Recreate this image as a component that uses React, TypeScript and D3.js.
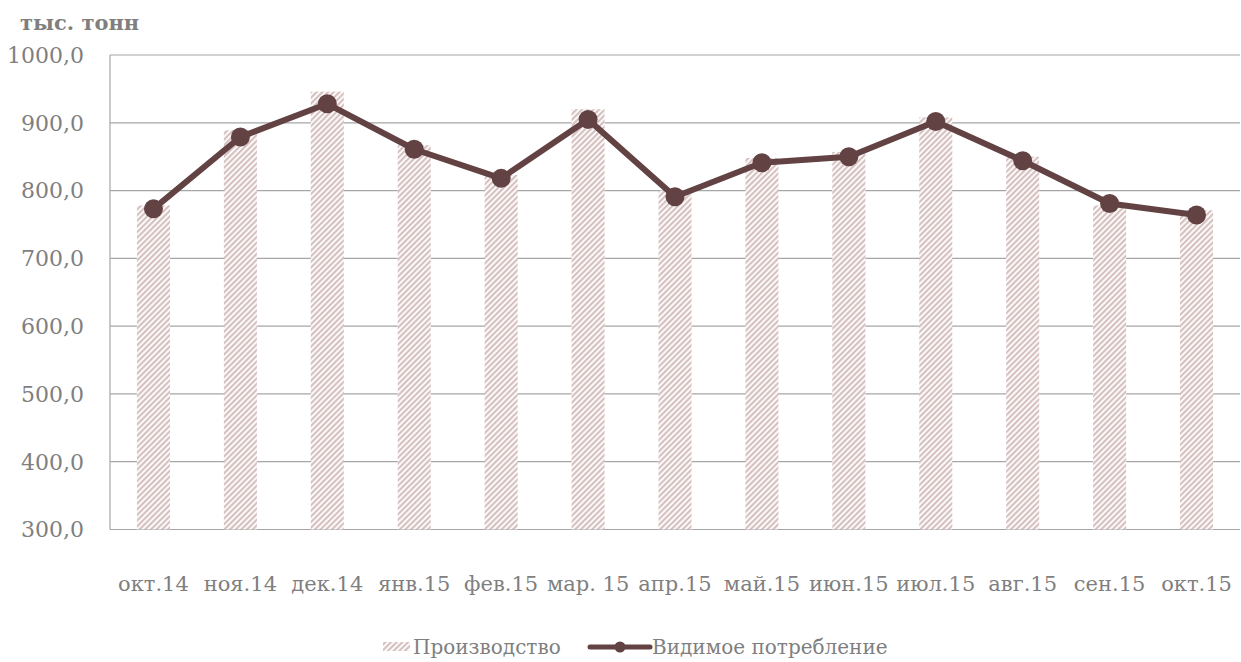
import * as d3 from 'd3';
import { useEffect, useRef } from 'react';

const months = ['окт.14', 'ноя.14', 'дек.14', 'янв.15', 'фев.15', 'мар. 15', 'апр.15', 'май.15', 'июн.15', 'июл.15', 'авг.15', 'сен.15', 'окт.15'];
const production = [778, 889, 946, 867, 823, 920, 800, 848, 857, 908, 850, 778, 771];
const consumption = [773, 879, 928, 861, 818, 905, 791, 841, 850, 902, 844, 781, 764];
const yTicks = [300, 400, 500, 600, 700, 800, 900, 1000];

const W = 1241;
const H = 662;
const FONT = '"DejaVu Serif", serif';
const GRAY = '#7f7f7f';
const LINE = '#634243';
const HATCH = '#d6c0c0';

const App = () => {
    const ref = useRef<SVGSVGElement>(null);

    useEffect(() => {
        const svg = d3.select(ref.current);
        svg.selectAll('*').remove();

        const margin = { top: 55, right: 1, bottom: 132.5, left: 110 };

        // hatch for the bars
        const defs = svg.append('defs');
        const pat = defs.append('pattern')
            .attr('id', 'hatch')
            .attr('patternUnits', 'userSpaceOnUse')
            .attr('width', 4)
            .attr('height', 4)
            .attr('patternTransform', 'rotate(45)');
        pat.append('rect').attr('width', 4).attr('height', 4).attr('fill', '#fff');
        pat.append('rect').attr('width', 2.2).attr('height', 4).attr('fill', HATCH);

        const x = d3.scaleBand()
            .domain(months)
            .range([margin.left, W - margin.right]);

        const y = d3.scaleLinear()
            .domain([300, 1000])
            .range([H - margin.bottom, margin.top]);

        // gridlines
        svg.append('g')
            .selectAll('line')
            .data(yTicks)
            .enter().append('line')
            .attr('x1', margin.left)
            .attr('x2', W - margin.right)
            .attr('y1', d => y(d))
            .attr('y2', d => y(d))
            .attr('stroke', '#a6a6a6')
            .attr('stroke-width', 1.2);

        // left frame
        svg.append('line')
            .attr('x1', margin.left).attr('x2', margin.left)
            .attr('y1', margin.top).attr('y2', H - margin.bottom)
            .attr('stroke', '#a6a6a6').attr('stroke-width', 1.2);

        // y labels
        svg.append('g')
            .selectAll('text')
            .data(yTicks)
            .enter().append('text')
            .attr('x', 84)
            .attr('y', d => y(d))
            .attr('dy', '0.36em')
            .attr('text-anchor', 'end')
            .style('font-family', FONT)
            .style('font-size', '22px')
            .attr('fill', GRAY)
            .text(d => d3.format('.1f')(d).replace('.', ','));

        // x labels
        svg.append('g')
            .selectAll('text')
            .data(months)
            .enter().append('text')
            .attr('x', d => x(d)! + x.bandwidth() / 2)
            .attr('y', 591)
            .attr('text-anchor', 'middle')
            .style('font-family', FONT)
            .style('font-size', '21px')
            .attr('fill', GRAY)
            .text(d => d);

        // bars
        const bw = x.bandwidth() * 0.38;
        svg.append('g')
            .selectAll('rect')
            .data(production)
            .enter().append('rect')
            .attr('x', (d, i) => x(months[i])! + (x.bandwidth() - bw) / 2)
            .attr('y', d => y(d))
            .attr('width', bw)
            .attr('height', d => y(300) - y(d))
            .attr('fill', 'url(#hatch)');

        // line
        const line = d3.line<number>()
            .x((d, i) => x(months[i])! + x.bandwidth() / 2)
            .y(d => y(d));
        svg.append('path')
            .datum(consumption)
            .attr('d', line)
            .attr('fill', 'none')
            .attr('stroke', LINE)
            .attr('stroke-width', 6)
            .attr('stroke-linejoin', 'round');

        svg.append('g')
            .selectAll('circle')
            .data(consumption)
            .enter().append('circle')
            .attr('cx', (d, i) => x(months[i])! + x.bandwidth() / 2)
            .attr('cy', d => y(d))
            .attr('r', 9.5)
            .attr('fill', LINE);

        // title
        svg.append('text')
            .attr('x', 20)
            .attr('y', 30)
            .style('font-family', FONT)
            .style('font-size', '21px')
            .style('font-weight', 'bold')
            .attr('fill', GRAY)
            .text('тыс. тонн');

        // legend
        const lg = svg.append('g').attr('transform', 'translate(0,647)');
        lg.append('rect')
            .attr('x', 383).attr('y', -5)
            .attr('width', 27).attr('height', 9)
            .attr('fill', 'url(#hatch)');
        lg.append('text')
            .attr('x', 413).attr('y', 0).attr('dy', '0.36em')
            .style('font-family', FONT).style('font-size', '20px')
            .attr('fill', GRAY)
            .text('Производство');
        lg.append('line')
            .attr('x1', 590).attr('x2', 650)
            .attr('y1', 0).attr('y2', 0)
            .attr('stroke', LINE).attr('stroke-width', 5)
            .attr('stroke-linecap', 'round');
        lg.append('circle')
            .attr('cx', 620).attr('cy', 0).attr('r', 5.5)
            .attr('fill', LINE);
        lg.append('text')
            .attr('x', 652).attr('y', 0).attr('dy', '0.36em')
            .style('font-family', FONT).style('font-size', '20px')
            .attr('fill', GRAY)
            .text('Видимое потребление');
    }, []);

    return (
        <svg ref={ref} width={W} height={H}
            style={{ position: 'absolute', left: 0, top: 0, background: '#fff' }} />
    );
};

export default App;
